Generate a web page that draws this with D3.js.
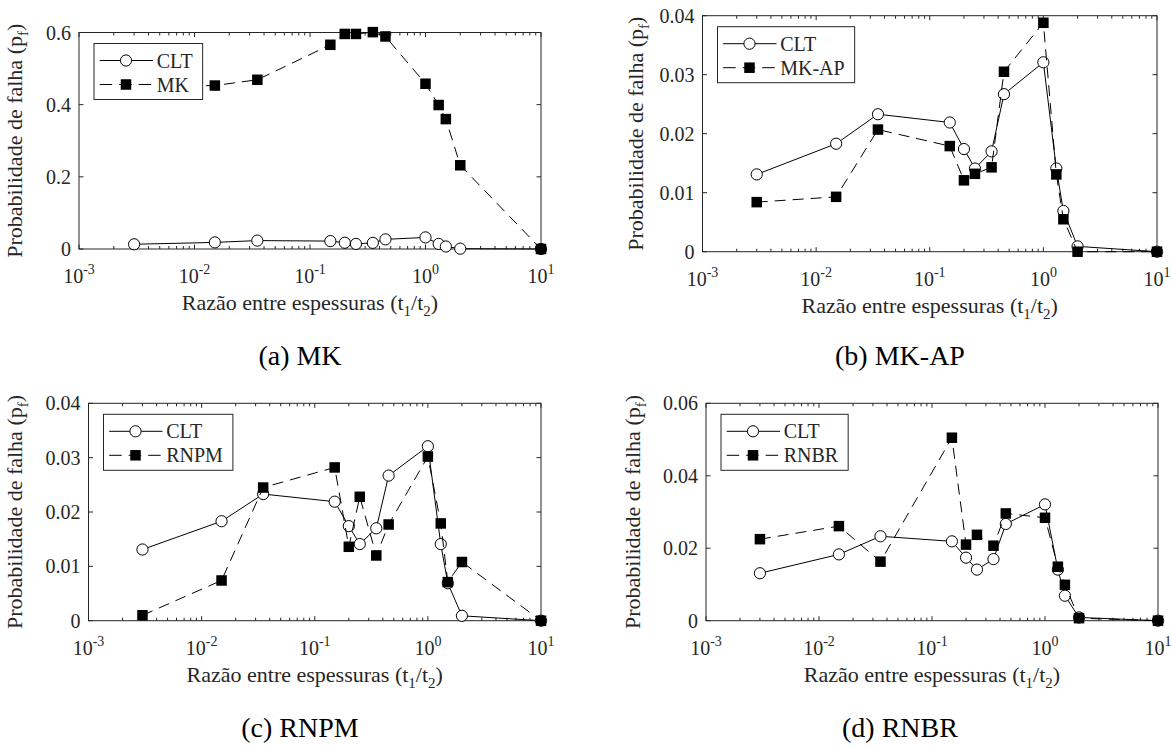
<!DOCTYPE html>
<html>
<head>
<meta charset="utf-8">
<script src="https://cdn.jsdelivr.net/npm/d3@7"></script>
<style>
  body { margin: 0; background: #fff; }
  svg { display: block; }
  svg text { font-family: 'Liberation Serif', 'Times New Roman', Times, 'DejaVu Serif', serif; fill: #262626; }
</style>
</head>
<body>
<svg id="fig" width="1172" height="746" font-family="Liberation Serif, Times New Roman, Times, serif"></svg>
<script>
// thickness ratio t1/t2 (shared by every panel)
var ratio = [0.003, 0.015, 0.035, 0.15, 0.2, 0.25, 0.35, 0.45, 1, 1.3, 1.5, 2, 10];

// failure probability
var clt  = [0.0131, 0.0183, 0.0233, 0.0219, 0.0174, 0.0141, 0.0170, 0.0267, 0.0321, 0.0141, 0.0069, 0.0009, 0];
var mk   = [0.450, 0.453, 0.469, 0.566, 0.596, 0.596, 0.601, 0.589, 0.458, 0.399, 0.360, 0.232, 0];
var mkAp = [0.0084, 0.0093, 0.0207, 0.0179, 0.0121, 0.0132, 0.0143, 0.0305, 0.0388, 0.0131, 0.0055, 0, 0];
var rnpm = [0.0010, 0.0074, 0.0245, 0.0282, 0.0136, 0.0228, 0.0120, 0.0177, 0.0302, 0.0179, 0.0071, 0.0108, 0];
var rnbr = [0.0225, 0.0261, 0.0163, 0.0505, 0.0210, 0.0237, 0.0207, 0.0296, 0.0284, 0.0149, 0.0099, 0.0007, 0];

// tick labels
var xDecades = [-3, -2, -1, 0, 1];
var yTicksA = [0, 0.2, 0.4, 0.6];
var yTicksB = [0, 0.01, 0.02, 0.03, 0.04];
var yTicksD = [0, 0.02, 0.04, 0.06];

// panel layout
var panels = [
  {left: 79,  right: 541,  top: 32.5,  bottom: 249,   yTicks: yTicksA, other: mk,   name: "MK",    caption: "(a) MK",    capX: 300, capY: 365, ylabX: 22},
  {left: 702.5, right: 1157, top: 15.7, bottom: 251.7, yTicks: yTicksB, other: mkAp, name: "MK-AP", caption: "(b) MK-AP", capX: 900, capY: 365, ylabX: 643},
  {left: 88.5, right: 541, top: 403.3, bottom: 620.7, yTicks: yTicksB, other: rnpm, name: "RNPM",  caption: "(c) RNPM",  capX: 300, capY: 737, ylabX: 22},
  {left: 706, right: 1158, top: 403.3, bottom: 620.7, yTicks: yTicksD, other: rnbr, name: "RNBR",  caption: "(d) RNBR",  capX: 900, capY: 737, ylabX: 640}
];

var axisColor = "#262626";
var serif = "'Liberation Serif', 'Times New Roman', Times, serif";
var svg = d3.select("#fig");

panels.forEach(function(p) {
  var g = svg.append("g").style("font-family", serif);

  var x = d3.scaleLog().domain([1e-3, 10]).range([p.left, p.right]);
  var y = d3.scaleLinear().domain([0, d3.max(p.yTicks)]).range([p.bottom, p.top]);

  // box
  g.append("rect")
    .attr("x", p.left).attr("y", p.top)
    .attr("width", p.right - p.left).attr("height", p.bottom - p.top)
    .attr("fill", "none").attr("stroke", axisColor).attr("stroke-width", 1);

  // x ticks (major + minor), bottom and top, pointing inward
  var minor = [];
  for (var k = -3; k < 1; k++) {
    for (var m = 2; m <= 9; m++) minor.push(m * Math.pow(10, k));
  }
  var majors = xDecades.map(function(e) { return Math.pow(10, e); });
  var xt = majors.map(function(v) { return {v: v, len: 4.5}; })
    .concat(minor.map(function(v) { return {v: v, len: 3}; }));
  g.selectAll(".xtb").data(xt).enter().append("line")
    .attr("x1", function(d) { return x(d.v); }).attr("x2", function(d) { return x(d.v); })
    .attr("y1", p.bottom).attr("y2", function(d) { return p.bottom - d.len; })
    .attr("stroke", axisColor);
  g.selectAll(".xtt").data(xt).enter().append("line")
    .attr("x1", function(d) { return x(d.v); }).attr("x2", function(d) { return x(d.v); })
    .attr("y1", p.top).attr("y2", function(d) { return p.top + d.len; })
    .attr("stroke", axisColor);

  // y ticks left and right
  g.selectAll(".ytl").data(p.yTicks).enter().append("line")
    .attr("x1", p.left).attr("x2", p.left + 4.5)
    .attr("y1", function(d) { return y(d); }).attr("y2", function(d) { return y(d); })
    .attr("stroke", axisColor);
  g.selectAll(".ytr").data(p.yTicks).enter().append("line")
    .attr("x1", p.right).attr("x2", p.right - 4.5)
    .attr("y1", function(d) { return y(d); }).attr("y2", function(d) { return y(d); })
    .attr("stroke", axisColor);

  // y tick labels
  g.selectAll(".ylab").data(p.yTicks).enter().append("text")
    .attr("x", p.left - 8).attr("y", function(d) { return y(d) + 7; })
    .attr("text-anchor", "end").attr("font-size", 20)
    .text(function(d) { return String(d); });

  // x tick labels 10^n
  xDecades.forEach(function(e) {
    var t = g.append("text")
      .attr("x", x(Math.pow(10, e))).attr("y", p.bottom + 34)
      .attr("text-anchor", "middle").attr("font-size", 20);
    t.append("tspan").text("10");
    t.append("tspan").attr("dy", -9).attr("font-size", 14).text(String(e));
  });

  // axis labels
  var xl = g.append("text")
    .attr("x", (p.left + p.right) / 2).attr("y", p.bottom + 61)
    .attr("text-anchor", "middle").attr("font-size", 22);
  xl.append("tspan").text("Razão entre espessuras (t");
  xl.append("tspan").attr("dy", 6).attr("font-size", 15).text("1");
  xl.append("tspan").attr("dy", -6).text("/t");
  xl.append("tspan").attr("dy", 6).attr("font-size", 15).text("2");
  xl.append("tspan").attr("dy", -6).text(")");

  var yl = g.append("text")
    .attr("transform", "translate(" + p.ylabX + "," + ((p.top + p.bottom) / 2) + ") rotate(-90)")
    .attr("text-anchor", "middle").attr("font-size", 22);
  yl.append("tspan").text("Probabilidade de falha (p");
  yl.append("tspan").attr("dy", 6).attr("font-size", 15).text("f");
  yl.append("tspan").attr("dy", -6).text(")");

  // data
  var line = d3.line()
    .x(function(d) { return x(d[0]); })
    .y(function(d) { return y(d[1]); });
  var cltPts = d3.zip(ratio, clt);
  var othPts = d3.zip(ratio, p.other);

  g.append("path").datum(cltPts).attr("d", line)
    .attr("fill", "none").attr("stroke", "#000").attr("stroke-width", 1);
  g.selectAll(".c").data(cltPts).enter().append("circle")
    .attr("cx", function(d) { return x(d[0]); }).attr("cy", function(d) { return y(d[1]); })
    .attr("r", 5.6).attr("fill", "#fff").attr("stroke", "#000").attr("stroke-width", 1);

  g.append("path").datum(othPts).attr("d", line)
    .attr("fill", "none").attr("stroke", "#000").attr("stroke-width", 1)
    .attr("stroke-dasharray", "11,7");
  var sq = 10.5;
  g.selectAll(".s").data(othPts).enter().append("rect")
    .attr("x", function(d) { return x(d[0]) - sq / 2; }).attr("y", function(d) { return y(d[1]) - sq / 2; })
    .attr("width", sq).attr("height", sq).attr("fill", "#000");

  // legend
  var lx = p.left + 15, ly = p.top + 11;
  var leg = g.append("g");
  var box = leg.append("rect").attr("x", lx).attr("y", ly).attr("height", 56)
    .attr("fill", "#fff").attr("stroke", axisColor).attr("stroke-width", 1);
  var rows = [ly + 17, ly + 41];
  leg.append("line").attr("x1", lx + 5.7).attr("x2", lx + 59).attr("y1", rows[0]).attr("y2", rows[0])
    .attr("stroke", "#000");
  leg.append("circle").attr("cx", lx + 32).attr("cy", rows[0]).attr("r", 5.6)
    .attr("fill", "#fff").attr("stroke", "#000");
  leg.append("line").attr("x1", lx + 5.7).attr("x2", lx + 59).attr("y1", rows[1]).attr("y2", rows[1])
    .attr("stroke", "#000").attr("stroke-dasharray", "12.5,7");
  leg.append("rect").attr("x", lx + 32 - sq / 2).attr("y", rows[1] - sq / 2)
    .attr("width", sq).attr("height", sq).attr("fill", "#000");
  var t1 = leg.append("text").attr("x", lx + 62.7).attr("y", rows[0] + 7).attr("font-size", 20).text("CLT");
  var t2 = leg.append("text").attr("x", lx + 62.7).attr("y", rows[1] + 7).attr("font-size", 20).text(p.name);
  var tw = Math.max(t1.node().getComputedTextLength(), t2.node().getComputedTextLength());
  box.attr("width", 62.7 + tw + 10);

  // caption
  g.append("text").attr("x", p.capX).attr("y", p.capY)
    .attr("text-anchor", "middle").attr("font-size", 28)
    .style("fill", "#000").text(p.caption);
});
</script>
</body>
</html>
